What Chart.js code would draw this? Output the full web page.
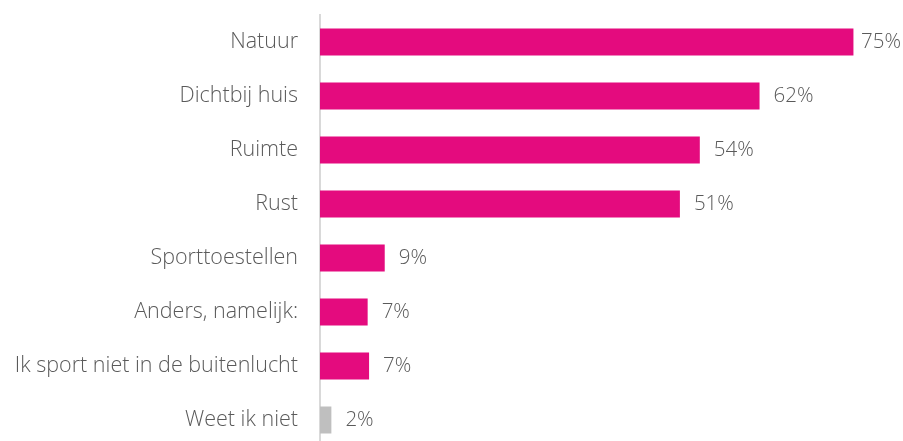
<!DOCTYPE html>
<html>
<head>
<meta charset="utf-8">
<script src="https://cdn.jsdelivr.net/npm/chart.js@4"></script>
<style>
  html, body { margin: 0; padding: 0; background: #fff; overflow: hidden; }
  #wrap { width: 903px; height: 452px; }
</style>
</head>
<body>
<div id="wrap"><canvas id="mainChart" width="903" height="452"></canvas></div>
<script>
// ========== Data ==========
const categories = ['Natuur', 'Dichtbij huis', 'Ruimte', 'Rust', 'Sporttoestellen',
  'Anders, namelijk:', 'Ik sport niet in de buitenlucht', 'Weet ik niet'];
const percentages = [75, 61.8, 53.4, 50.6, 9.1, 6.7, 6.9, 1.6];
const valueLabels = ['75%', '62%', '54%', '51%', '9%', '7%', '7%', '2%'];

const PINK = '#E40B7E';
const GREY = '#BFBFBF';
const TEXT = '#5a5a5a';
const FONT = '"Open Sans", Lato, sans-serif';

// 마지막 항목(Weet ik niet)만 회색
const barColors = categories.map((c, i) => i === categories.length - 1 ? GREY : PINK);

// 막대 끝 값 라벨
const valueLabelPlugin = {
  id: 'valueLabels',
  afterDatasetsDraw(chart) {
    const ctx = chart.ctx;
    const meta = chart.getDatasetMeta(0);
    ctx.save();
    ctx.font = '300 20.5px ' + FONT;
    ctx.fillStyle = TEXT;
    ctx.textBaseline = 'middle';
    ctx.textAlign = 'left';
    meta.data.forEach((bar, i) => {
      const txt = valueLabels[i];
      const w = ctx.measureText(txt).width;
      let x = bar.x + 14;
      if (x + w > chart.width - 2) x = chart.width - 2 - w;
      ctx.fillText(txt, x, bar.y);
    });
    ctx.restore();
  }
};

new Chart(document.getElementById('mainChart'), {
  type: 'bar',
  data: {
    labels: categories,
    datasets: [{
      data: percentages,
      backgroundColor: barColors,
      borderWidth: 0,
      barPercentage: 0.5,
      categoryPercentage: 1.0
    }]
  },
  options: {
    indexAxis: 'y',
    responsive: false,
    animation: false,
    layout: { padding: { top: 15, bottom: 5, left: 0, right: 14 } },
    plugins: { legend: { display: false }, tooltip: { enabled: false } },
    scales: {
      x: {
        display: false,
        min: 0,
        max: 80
      },
      y: {
        afterFit(scale) {
          // 라벨 폭/여백 고정
          scale.width = 320;
          scale.paddingTop = 0;
          scale.paddingBottom = 0;
        },
        grid: { display: false, drawTicks: false },
        border: { display: true, color: '#D9D9D9', width: 2 },
        ticks: {
          padding: 22,
          color: TEXT,
          font: { family: FONT, size: 21.5, weight: 300 }
        }
      }
    }
  },
  plugins: [valueLabelPlugin]
});
</script>
</body>
</html>
